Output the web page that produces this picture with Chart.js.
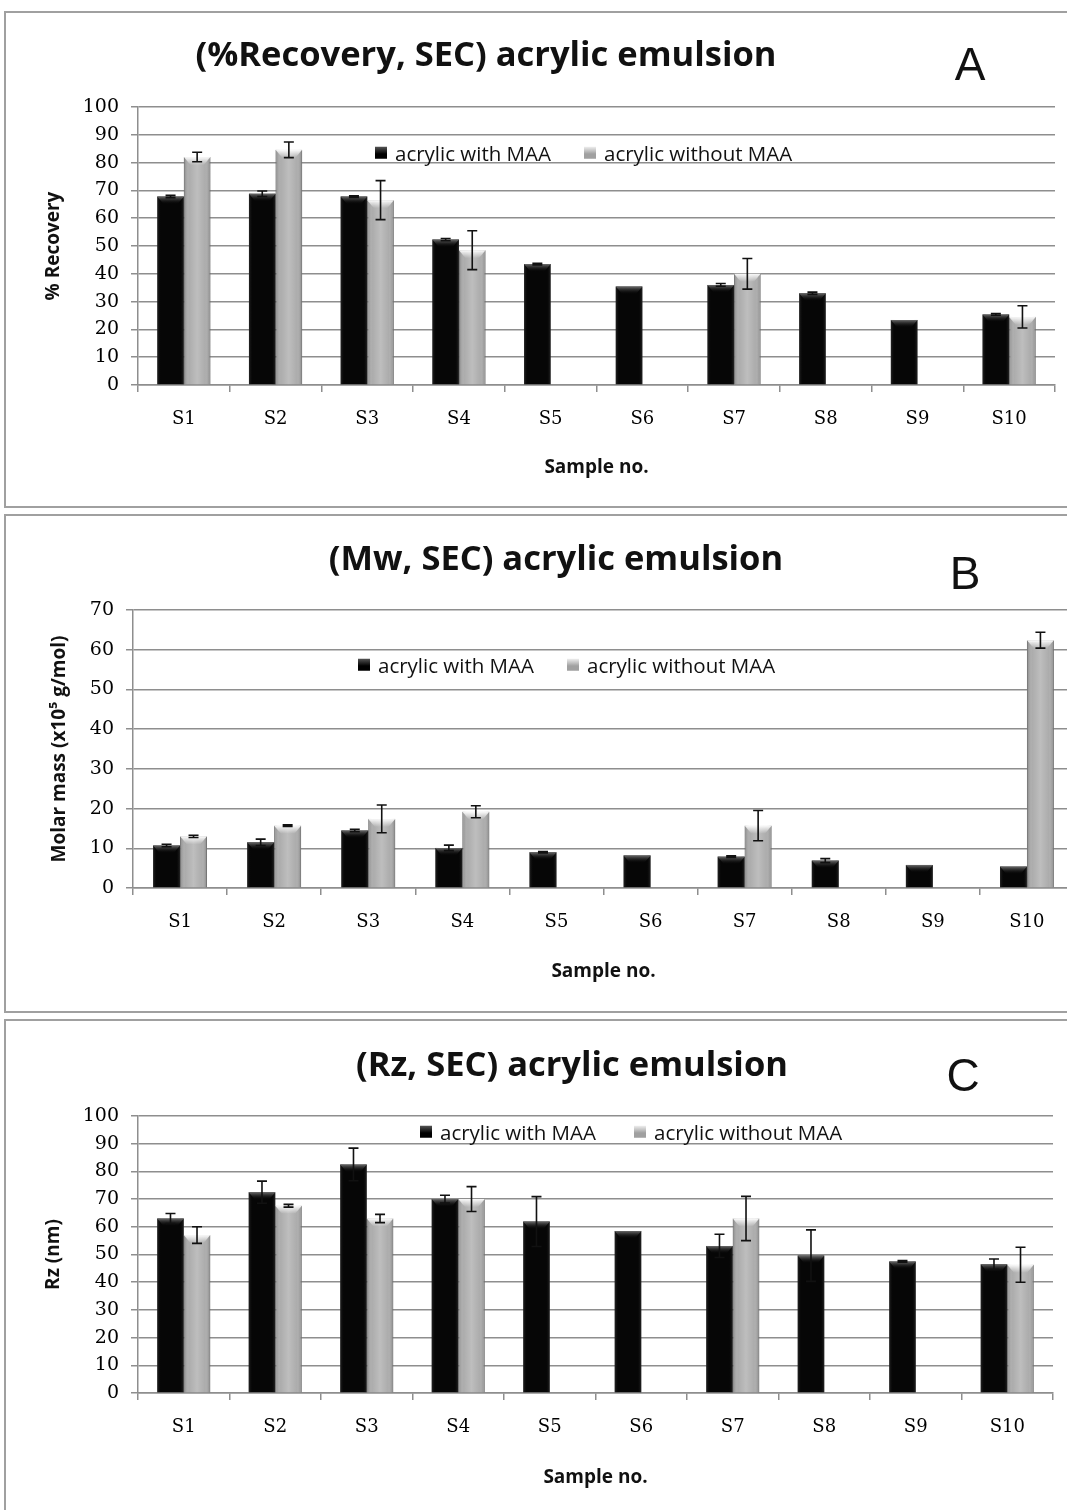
<!DOCTYPE html>
<html>
<head>
<meta charset="utf-8">
<script src="https://cdn.jsdelivr.net/npm/chart.js@4.4.1/dist/chart.umd.min.js"></script>
<style>
  html, body { margin: 0; padding: 0; background: #fff; }
  body { width: 1067px; height: 1510px; position: relative; overflow: hidden; }
  .panel { position: absolute; left: 4px; width: 1090px; border: 2px solid #a0a0a0; box-sizing: border-box; }
  canvas { position: absolute; left: 0; }
  .title { position: absolute; font-family: 'Open Sans', sans-serif; font-weight: 700; font-size: 34.5px;
           line-height: 1; transform: translate(-50%, -50%); white-space: nowrap; color: #111; }
  .letter { position: absolute; font-family: 'Liberation Sans', sans-serif; font-size: 46px;
            line-height: 1; transform: translate(-50%, -50%); color: #111; }
  .leg { position: absolute; font-family: 'Open Sans', sans-serif; font-size: 20.5px; line-height: 1;
         transform: translateY(-50%); white-space: nowrap; color: #111; display: flex; align-items: center; }
  .leg i { display: inline-block; width: 12px; height: 12px; margin-right: 8px; }
  .leg i.dark { background: linear-gradient(#555, #000 60%); }
  .leg i.light { background: linear-gradient(#eee, #a0a0a0 60%); }
</style>
</head>
<body>
<div class="panel" style="top:11px;height:497px"></div>
<div class="panel" style="top:514px;height:499px"></div>
<div class="panel" style="top:1019px;height:500px"></div>

<canvas id="chartA" width="1067" height="497" style="top:11px"></canvas>
<canvas id="chartB" width="1090" height="499" style="top:514px"></canvas>
<canvas id="chartC" width="1067" height="491" style="top:1019px"></canvas>

<div class="title" style="left:486px;top:53px">(%Recovery, SEC) acrylic emulsion</div>
<div class="letter" style="left:970px;top:64px">A</div>
<div class="leg" style="left:375px;top:153px"><i class="dark"></i>acrylic with MAA</div>
<div class="leg" style="left:584px;top:153px"><i class="light"></i>acrylic without MAA</div>

<div class="title" style="left:556px;top:557px">(Mw, SEC) acrylic emulsion</div>
<div class="letter" style="left:965px;top:573px">B</div>
<div class="leg" style="left:358px;top:665px"><i class="dark"></i>acrylic with MAA</div>
<div class="leg" style="left:567px;top:665px"><i class="light"></i>acrylic without MAA</div>

<div class="title" style="left:572px;top:1063px">(Rz, SEC) acrylic emulsion</div>
<div class="letter" style="left:963px;top:1075px">C</div>
<div class="leg" style="left:420px;top:1132px"><i class="dark"></i>acrylic with MAA</div>
<div class="leg" style="left:634px;top:1132px"><i class="light"></i>acrylic without MAA</div>

<script>
const categories = ['S1', 'S2', 'S3', 'S4', 'S5', 'S6', 'S7', 'S8', 'S9', 'S10'];

// A: % recovery
const recWithMAA     = [67.8, 68.8, 67.8, 52.3, 43.5, 35.4, 36.0, 33.0, 23.4, 25.4];
const recWithMAAErr  = [0.4, 1.0, 0.3, 0.4, 0.3, 0, 0.5, 0.4, 0, 0.3];
const recNoMAA       = [82.0, 84.6, 66.5, 48.5, null, null, 40.0, null, null, 24.5];
const recNoMAAErr    = [1.7, 2.8, 7.0, 7.0, null, null, 5.5, null, null, 4.0];

// B: Mw (x10^5 g/mol)
const mwWithMAA      = [10.7, 11.5, 14.5, 10.1, 9.0, 8.2, 7.9, 6.9, 5.8, 5.4];
const mwWithMAAErr   = [0.3, 0.8, 0.3, 0.7, 0.2, 0, 0.2, 0.5, 0, 0];
const mwNoMAA        = [13.0, 15.7, 17.4, 19.2, null, null, 15.7, null, null, 62.4];
const mwNoMAAErr     = [0.3, 0.2, 3.5, 1.5, null, null, 3.8, null, null, 2.0];

// C: Rz (nm)
const rzWithMAA      = [63.0, 72.5, 82.5, 70.0, 61.9, 58.5, 53.1, 49.6, 47.5, 46.5];
const rzWithMAAErr   = [1.8, 4.0, 5.9, 1.4, 9.0, 0, 4.2, 9.3, 0.3, 1.9];
const rzNoMAA        = [57.0, 67.6, 63.0, 70.0, null, null, 63.0, null, null, 46.3];
const rzNoMAAErr     = [3.0, 0.5, 1.5, 4.5, null, null, 8.0, null, null, 6.3];

const GRID = '#8e8e8e';

// bevel shading on the bars, then the error bars
const barDecor = {
  id: 'barDecor',
  afterDatasetsDraw(chart) {
    const ctx = chart.ctx;
    const yScale = chart.scales.y;
    ctx.save();
    chart.data.datasets.forEach((ds, di) => {
      const light = ds.shade === 'light';
      chart.getDatasetMeta(di).data.forEach((bar, j) => {
        if (ds.data[j] == null) return;
        const p = bar.getProps(['x', 'y', 'base', 'width'], true);
        const l = p.x - p.width / 2, w = p.width, t = p.y, h = p.base - p.y;
        const g = ctx.createLinearGradient(l, 0, l + w, 0);
        if (light) {
          g.addColorStop(0, 'rgba(70,70,70,0.4)');
          g.addColorStop(0.2, 'rgba(255,255,255,0.05)');
          g.addColorStop(0.5, 'rgba(255,255,255,0.25)');
          g.addColorStop(0.8, 'rgba(255,255,255,0.05)');
          g.addColorStop(1, 'rgba(70,70,70,0.4)');
        } else {
          g.addColorStop(0, 'rgba(70,70,70,0.5)');
          g.addColorStop(0.15, 'rgba(0,0,0,0)');
          g.addColorStop(0.85, 'rgba(0,0,0,0)');
          g.addColorStop(1, 'rgba(70,70,70,0.5)');
        }
        ctx.fillStyle = g;
        ctx.fillRect(l, t, w, h);
        const bh = Math.min(8, h);
        const bg = ctx.createLinearGradient(0, t, 0, t + bh);
        bg.addColorStop(0, light ? 'rgba(255,255,255,0.95)' : 'rgba(120,120,120,0.9)');
        bg.addColorStop(1, light ? 'rgba(255,255,255,0)' : 'rgba(0,0,0,0)');
        ctx.fillStyle = bg;
        ctx.beginPath();
        ctx.moveTo(l, t);
        ctx.lineTo(l + w, t);
        ctx.lineTo(l + w * 0.75, t + bh);
        ctx.lineTo(l + w * 0.25, t + bh);
        ctx.closePath();
        ctx.fill();
      });
    });

    ctx.strokeStyle = '#111';
    ctx.lineWidth = 1.6;
    chart.data.datasets.forEach((ds, di) => {
      chart.getDatasetMeta(di).data.forEach((bar, j) => {
        const v = ds.data[j], e = ds.errors[j];
        if (v == null || !e) return;
        const x = bar.x;
        const top = yScale.getPixelForValue(v + e);
        const bot = yScale.getPixelForValue(v - e);
        ctx.beginPath();
        ctx.moveTo(x, top); ctx.lineTo(x, bot);
        ctx.moveTo(x - 5, top); ctx.lineTo(x + 5, top);
        ctx.moveTo(x - 5, bot); ctx.lineTo(x + 5, bot);
        ctx.stroke();
      });
    });
    ctx.restore();
  }
};

function makeChart(p) {
  return new Chart(document.getElementById(p.id), {
    type: 'bar',
    data: {
      labels: categories,
      datasets: [
        {
          label: 'acrylic with MAA',
          data: p.withVals,
          errors: p.withErr,
          shade: 'dark',
          backgroundColor: '#060606',
          borderWidth: 0,
          categoryPercentage: p.catPct,
          barPercentage: 1
        },
        {
          label: 'acrylic without MAA',
          data: p.noVals,
          errors: p.noErr,
          shade: 'light',
          backgroundColor: '#a8a8a8',
          borderColor: '#888',
          borderWidth: 1,
          categoryPercentage: p.catPct,
          barPercentage: 1
        }
      ]
    },
    options: {
      responsive: false,
      animation: false,
      layout: { padding: { top: p.chartTop, right: p.rightPad, left: 0, bottom: 0 } },
      plugins: { legend: { display: false }, tooltip: { enabled: false } },
      scales: {
        x: {
          grid: { offset: true, drawOnChartArea: false, color: GRID, lineWidth: 1.5, tickLength: 7 },
          border: { color: GRID, width: 1.5 },
          ticks: { font: { family: 'DejaVu Serif', size: 18 }, color: '#000', padding: 17 },
          title: {
            display: true, text: 'Sample no.', color: '#111',
            font: { family: 'Open Sans', weight: 'bold', size: 19 },
            padding: { top: 0, bottom: p.xTitlePad }
          },
          afterFit: s => { s.height = p.height - p.chartBottom; }
        },
        y: {
          min: 0,
          max: p.yMax,
          ticks: { stepSize: 10, font: { family: 'DejaVu Serif', size: 19 }, color: '#000', padding: 12 },
          grid: { color: GRID, lineWidth: 1.5, tickLength: 7 },
          border: { color: GRID, width: 1.5 },
          title: {
            display: true, text: p.yTitle, color: '#111',
            font: { family: 'Open Sans', weight: 'bold', size: 19 },
            padding: { top: p.yTitlePad, bottom: 0 }
          },
          afterFit: s => { s.width = p.yWidth; }
        }
      }
    },
    plugins: [barDecor]
  });
}

makeChart({
  id: 'chartA', height: 497, chartTop: 96, chartBottom: 374, yWidth: 138, rightPad: 12,
  yMax: 100, yTitle: '% Recovery', yTitlePad: 42, xTitlePad: 29, catPct: 0.58,
  withVals: recWithMAA, withErr: recWithMAAErr, noVals: recNoMAA, noErr: recNoMAAErr
});

makeChart({
  id: 'chartB', height: 499, chartTop: 96, chartBottom: 374, yWidth: 133, rightPad: 16,
  yMax: 70, yTitle: 'Molar mass (x10⁵ g/mol)', yTitlePad: 48, xTitlePad: 30, catPct: 0.573,
  withVals: mwWithMAA, withErr: mwWithMAAErr, noVals: mwNoMAA, noErr: mwNoMAAErr
});

makeChart({
  id: 'chartC', height: 491, chartTop: 97, chartBottom: 374, yWidth: 138, rightPad: 14,
  yMax: 100, yTitle: 'Rz (nm)', yTitlePad: 42, xTitlePad: 21, catPct: 0.58,
  withVals: rzWithMAA, withErr: rzWithMAAErr, noVals: rzNoMAA, noErr: rzNoMAAErr
});
</script>
</body>
</html>
